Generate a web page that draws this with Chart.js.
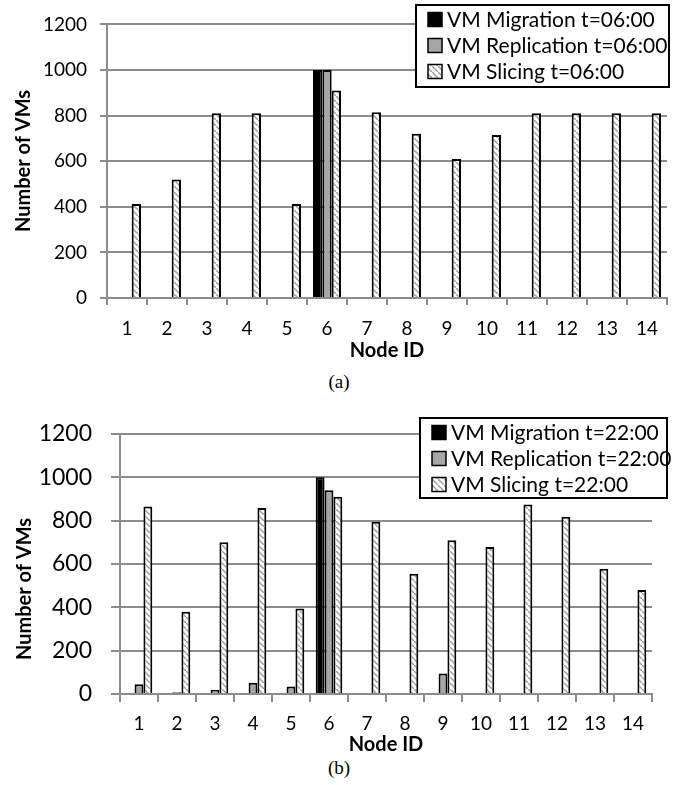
<!DOCTYPE html>
<html>
<head>
<meta charset="utf-8">
<script src="https://cdn.jsdelivr.net/npm/chart.js@4.4.0/dist/chart.umd.min.js"></script>
<style>
  body { margin: 0; background: #fff; width: 678px; height: 785px; position: relative; overflow: hidden; }
  canvas { position: absolute; left: 0; }
  #chartA { top: 0; }
  #chartB { top: 395px; }
  .caption { position: absolute; left: 0; width: 678px; text-align: center; font: 19px "Liberation Serif", "Times New Roman", serif; color: #000; }
</style>
</head>
<body>
<canvas id="chartA" width="678" height="363"></canvas>
<canvas id="chartB" width="678" height="362"></canvas>
<div class="caption" style="top:371px">(a)</div>
<div class="caption" style="top:757px">(b)</div>
<script>
const nodeIds = ['1', '2', '3', '4', '5', '6', '7', '8', '9', '10', '11', '12', '13', '14'];
const yTickValues = [0, 200, 400, 600, 800, 1000, 1200];

// (a) t=06:00
const labelsA = ['VM Migration t=06:00', 'VM Replication t=06:00', 'VM Slicing t=06:00'];
const migrationA = [0, 0, 0, 0, 0, 1000, 0, 0, 0, 0, 0, 0, 0, 0];
const replicationA = [0, 0, 0, 0, 0, 1000, 0, 0, 0, 0, 0, 0, 0, 0];
const slicingA = [412, 520, 810, 810, 412, 910, 815, 720, 610, 715, 810, 810, 810, 810];

// (b) t=22:00
const labelsB = ['VM Migration t=22:00', 'VM Replication t=22:00', 'VM Slicing t=22:00'];
const migrationB = [0, 0, 0, 0, 0, 1000, 0, 0, 0, 0, 0, 0, 0, 0];
const replicationB = [45, 8, 18, 52, 35, 940, 0, 0, 95, 0, 0, 0, 0, 0];
const slicingB = [865, 380, 700, 858, 395, 910, 795, 555, 710, 678, 875, 818, 578, 480];

const gridGray = '#8c8c8c';

function slicePattern() {
  const c = document.createElement('canvas');
  c.width = 6; c.height = 6;
  const g = c.getContext('2d');
  g.fillStyle = '#fff';
  g.fillRect(0, 0, 6, 6);
  g.strokeStyle = '#a0a0a0';
  g.lineWidth = 1.5;
  g.beginPath();
  g.moveTo(-1, -1);
  g.lineTo(7, 7);
  g.stroke();
  return g.createPattern(c, 'repeat');
}
const pattern = slicePattern();
const fills = ['#000', '#a6a6a6', pattern];

// legend drawn inside the plot, boxed like the original
const boxLegend = {
  id: 'boxLegend',
  afterDraw(chart, args, o) {
    const { ctx } = chart;
    ctx.save();
    ctx.fillStyle = '#fff';
    ctx.fillRect(o.x, o.y, o.w, o.h);
    ctx.strokeStyle = '#000';
    ctx.lineWidth = 2;
    ctx.strokeRect(o.x, o.y, o.w, o.h);
    ctx.font = '21px Lato';
    ctx.textBaseline = 'middle';
    chart.data.datasets.forEach((ds, i) => {
      const cy = o.y + 14.5 + i * 26;
      ctx.fillStyle = ds.backgroundColor;
      ctx.fillRect(o.x + 12, cy - 7, 14, 14);
      ctx.strokeStyle = '#000';
      ctx.lineWidth = 1.5;
      ctx.strokeRect(o.x + 12, cy - 7, 14, 14);
      ctx.fillStyle = '#000';
      ctx.fillText(ds.label, o.x + 31, cy + 1);
    });
    ctx.restore();
  }
};

const yTitle = {
  id: 'yTitle',
  afterDraw(chart, args, o) {
    const { ctx } = chart;
    ctx.save();
    ctx.translate(o.x, o.y);
    ctx.rotate(-Math.PI / 2);
    ctx.font = 'bold 20px Lato';
    ctx.fillStyle = '#000';
    ctx.textAlign = 'center';
    ctx.textBaseline = 'middle';
    ctx.fillText(o.text, 0, 0);
    ctx.restore();
  }
};

function makeChart(id, labels, series, s) {
  return new Chart(document.getElementById(id), {
    type: 'bar',
    data: {
      labels: nodeIds,
      datasets: series.map((d, i) => ({
        label: labels[i],
        data: d,
        backgroundColor: fills[i],
        borderColor: '#000',
        borderWidth: 2,
        categoryPercentage: 0.7,
        barPercentage: 1.0
      }))
    },
    options: {
      responsive: false,
      animation: false,
      layout: { padding: { top: s.top, right: s.right, left: 0, bottom: 0 } },
      plugins: {
        legend: { display: false },
        tooltip: { enabled: false },
        boxLegend: s.legend,
        yTitle: { text: 'Number of VMs', x: s.titleX, y: s.titleY }
      },
      scales: {
        x: {
          grid: { drawOnChartArea: false, drawTicks: true, tickLength: s.xTick, color: gridGray, lineWidth: 2, offset: true },
          border: { color: gridGray, width: 2 },
          ticks: { color: '#000', font: { family: 'Lato', size: 19 }, padding: s.xPad, maxRotation: 0, autoSkip: false },
          title: { display: true, text: 'Node ID', color: '#000', font: { family: 'Lato', size: 20, weight: 'bold' }, padding: 0 },
          afterFit: sc => { sc.height = s.xHeight; }
        },
        y: {
          min: 0,
          max: 1200,
          grid: { color: gridGray, lineWidth: 2, tickLength: s.yTick },
          border: { color: gridGray, width: 2 },
          ticks: { color: '#000', font: { family: 'Lato', size: s.yFont }, padding: s.yPad, callback: v => String(v) },
          afterBuildTicks: sc => { sc.ticks = yTickValues.map(v => ({ value: v })); },
          afterFit: sc => { sc.width = s.yWidth; }
        }
      }
    },
    plugins: [boxLegend, yTitle]
  });
}

makeChart('chartA', labelsA, [migrationA, replicationA, slicingA], {
  top: 20, right: 11, xHeight: 65, xTick: 7, xPad: 12,
  yWidth: 107, yTick: 7, yPad: 13, yFont: 19,
  titleX: 23.5, titleY: 161,
  legend: { x: 416, y: 5, w: 253, h: 82 }
});

makeChart('chartB', labelsB, [migrationB, replicationB, slicingB], {
  top: 39, right: 26, xHeight: 63, xTick: 8, xPad: 10,
  yWidth: 120, yTick: 9, yPad: 19, yFont: 23,
  titleX: 25, titleY: 194,
  legend: { x: 420, y: 23, w: 247, h: 80 }
});
</script>
</body>
</html>
